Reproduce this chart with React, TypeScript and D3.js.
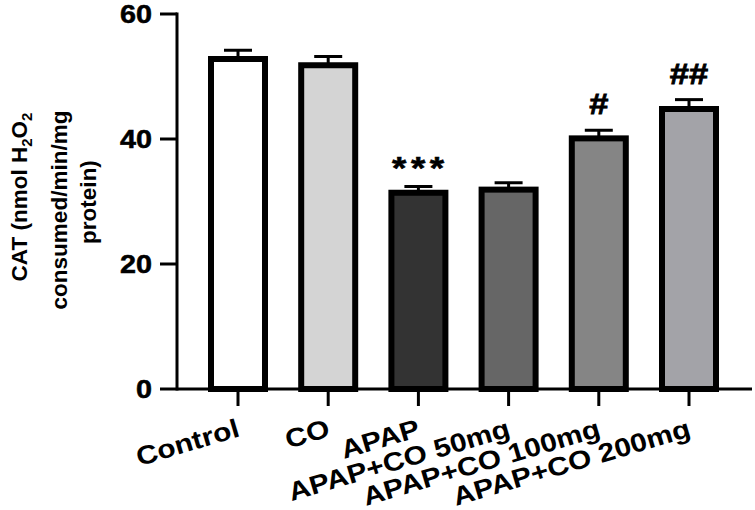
import React from "react";
import * as d3 from "d3";

const categories = ["Control", "CO", "APAP", "APAP+CO 50mg", "APAP+CO 100mg", "APAP+CO 200mg"];
const means = [52.8, 51.8, 31.4, 31.9, 40.1, 44.8];
const sems = [1.4, 1.4, 1.0, 1.1, 1.3, 1.5];
const fills = ["#ffffff", "#d4d4d4", "#333333", "#666666", "#858585", "#a3a3a8"];
const annotations = ["", "", "***", "", "#", "##"];
const yTicks = [0, 20, 40, 60];

const FONT = "'Liberation Sans', Arial, Helvetica, sans-serif";
const SX = 1.15;

export default function App() {
  const W = 755, H = 510;
  const axisX = 177;
  const y = d3.scaleLinear().domain([0, 60]).range([389, 14]);
  const x = d3.scalePoint<string>().domain(categories).range([238, 689]);
  const barW = 54;
  const capW = 28;

  return (
    <svg width={W} height={H} style={{ position: "absolute", left: 0, top: 0, background: "#fff" }} fontFamily={FONT}>
      <rect x={0} y={0} width={W} height={H} fill="#fff" />
      {/* bars */}
      {categories.map((c, i) => {
        const cx = x(c)!;
        const top = y(means[i]);
        const capY = y(means[i] + sems[i]);
        const star = annotations[i].startsWith("*");
        return (
          <g key={c}>
            <line x1={cx} x2={cx} y1={top} y2={capY} stroke="#000" strokeWidth={3} />
            <line x1={cx - capW / 2} x2={cx + capW / 2} y1={capY} y2={capY} stroke="#000" strokeWidth={3} />
            <rect x={cx - barW / 2} y={top} width={barW} height={y(0) - top} fill={fills[i]} stroke="#000" strokeWidth={6} />
            {annotations[i] && (
              <text
                transform={`translate(${cx + (star ? 2 : 0)},${capY - (star ? 8 : 16)}) scale(${SX},1)`}
                textAnchor="middle"
                fontWeight="bold"
                fontSize={star ? 32 : 30}
                letterSpacing={star ? 4 : 0}
                stroke="#000"
                strokeWidth={star ? 0.6 : 0.8}
                fill="#000"
              >
                {annotations[i]}
              </text>
            )}
          </g>
        );
      })}
      {/* y axis */}
      <line x1={axisX} x2={axisX} y1={y(60) - 1.5} y2={y(0) + 1.5} stroke="#000" strokeWidth={3} />
      {yTicks.map((t) => (
        <g key={t}>
          <line x1={160} x2={axisX} y1={y(t)} y2={y(t)} stroke="#000" strokeWidth={3} />
          <text
            transform={`translate(152,${y(t)}) scale(${SX},1)`}
            dy="0.36em"
            textAnchor="end"
            fontWeight="bold"
            fontSize={25}
            stroke="#000"
            strokeWidth={0.5}
            fill="#000"
          >
            {t}
          </text>
        </g>
      ))}
      {/* x axis */}
      <line x1={axisX} x2={752} y1={y(0)} y2={y(0)} stroke="#000" strokeWidth={3} />
      {categories.map((c) => (
        <g key={"t" + c}>
          <line x1={x(c)!} x2={x(c)!} y1={y(0)} y2={406} stroke="#000" strokeWidth={3} />
          <text
            transform={`translate(${x(c)! + 3},436) rotate(-16.5) scale(${SX},1)`}
            textAnchor="end"
            fontWeight="bold"
            fontSize={26}
            fill="#000"
          >
            {c}
          </text>
        </g>
      ))}
      {/* y axis title */}
      <g fontWeight="bold" fontSize={22.5} fill="#000">
        <text transform={`translate(27,197) rotate(-90)`} textAnchor="middle">
          CAT (nmol H<tspan fontSize={15} dy={5}>2</tspan><tspan dy={-5}>O</tspan><tspan fontSize={15} dy={5}>2</tspan>
        </text>
        <text transform={`translate(67,210) rotate(-90)`} textAnchor="middle">
          consumed/min/mg
        </text>
        <text transform={`translate(96,202) rotate(-90)`} textAnchor="middle">
          protein)
        </text>
      </g>
    </svg>
  );
}
